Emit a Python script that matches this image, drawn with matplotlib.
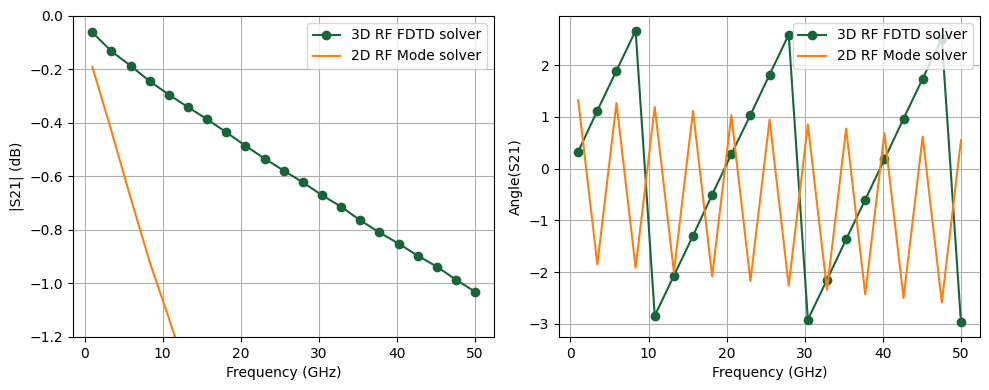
import numpy as np
import matplotlib
matplotlib.use("Agg")
import matplotlib.pyplot as plt

# frequency points (GHz)
freq = [1.0, 3.45, 5.9, 8.35, 10.8, 13.25, 15.7, 18.15, 20.6, 23.05, 25.5,
        27.95, 30.4, 32.85, 35.3, 37.75, 40.2, 42.65, 45.1, 47.55, 50.0]

# |S21| in dB
mag_fdtd = [-0.061, -0.132, -0.186, -0.244, -0.294, -0.341, -0.386, -0.435,
            -0.485, -0.533, -0.578, -0.622, -0.670, -0.713, -0.764, -0.809,
            -0.851, -0.896, -0.937, -0.986, -1.031]
mag_mode = [-0.19, -0.43, -0.68, -0.92, -1.13, -1.35, -1.57, -1.79, -2.01,
            -2.23, -2.45, -2.67, -2.89, -3.11, -3.33, -3.55, -3.77, -3.99,
            -4.21, -4.43, -4.65]

# phase of S21
ang_fdtd = [0.329, 1.121, 1.894, 2.668, -2.842, -2.068, -1.295, -0.503,
            0.277, 1.037, 1.817, 2.590, -2.919, -2.146, -1.366, -0.599,
            0.180, 0.966, 1.740, 2.513, -2.970]
ang_mode = [1.321, -1.849, 1.269, -1.914, 1.192, -1.997, 1.115, -2.081,
            1.031, -2.171, 0.947, -2.262, 0.857, -2.339, 0.773, -2.429,
            0.689, -2.500, 0.619, -2.584, 0.548]

green = '#17663a'
orange = '#ff7f0e'

fig, (ax1, ax2) = plt.subplots(1, 2, figsize=(9.89, 3.9), dpi=100)

ax1.plot(freq, mag_fdtd, '-o', color=green, label='3D RF FDTD solver')
ax1.plot(freq, mag_mode, color=orange, label='2D RF Mode solver')
ax1.set_ylim(-1.2, 0)
ax1.set_xlabel('Frequency (GHz)')
ax1.set_ylabel('|S21| (dB)')
ax1.grid()
ax1.legend(loc='upper right')

ax2.plot(freq, ang_fdtd, '-o', color=green, label='3D RF FDTD solver')
ax2.plot(freq, ang_mode, color=orange, label='2D RF Mode solver')
ax2.set_xlabel('Frequency (GHz)')
ax2.set_ylabel('Angle(S21)')
ax2.grid()
ax2.legend(loc='upper right')

plt.subplots_adjust(left=0.074, right=0.991, top=0.959, bottom=0.136, wspace=0.154)
plt.savefig('out.png')
